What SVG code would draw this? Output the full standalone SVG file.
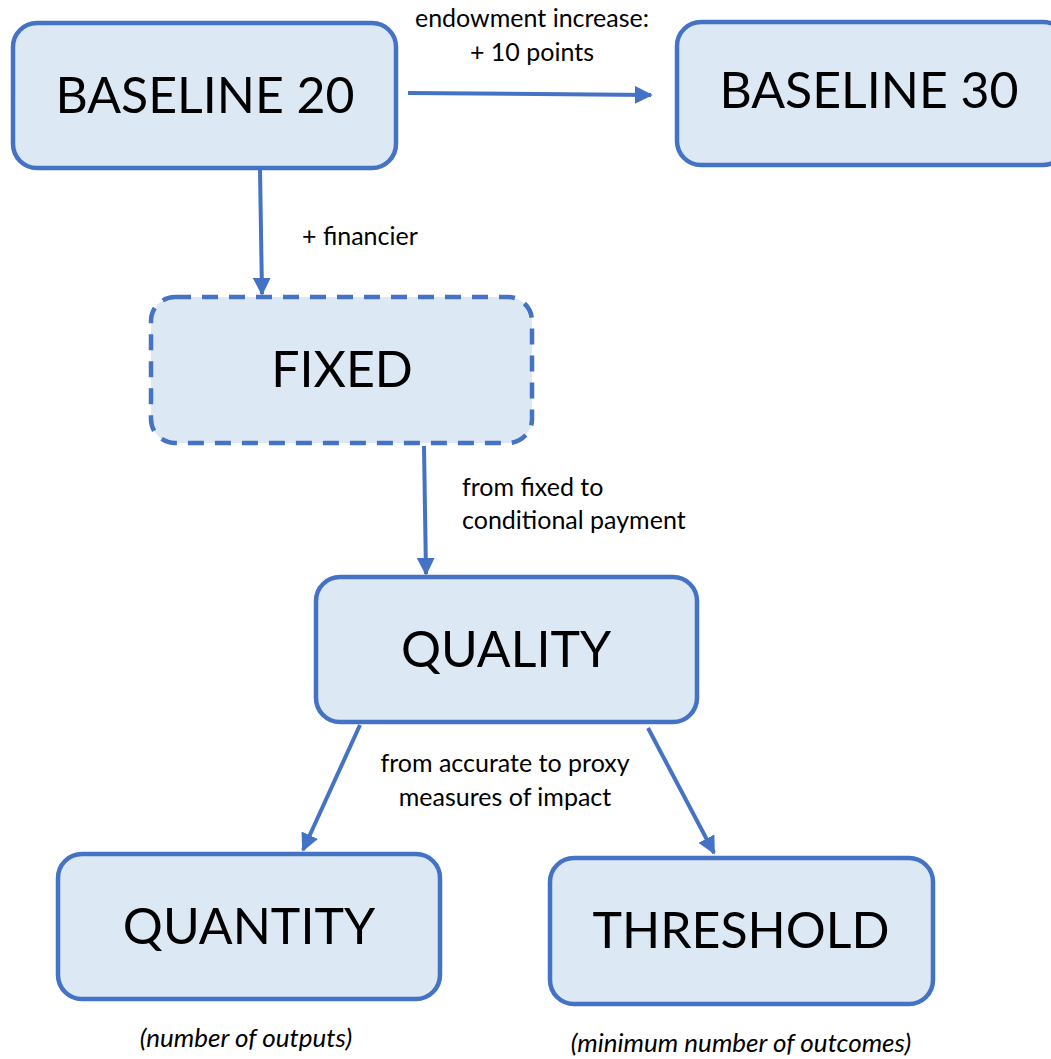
<svg xmlns="http://www.w3.org/2000/svg" width="1051" height="1059" viewBox="0 0 1051 1059">
<style>
.box{fill:#DDE8F5;stroke:#4472C4;stroke-width:4.5}
.dash{stroke-dasharray:16 11}
.big{font-family:Lato,"Liberation Sans",sans-serif;font-size:50px;fill:#000;text-anchor:middle}
.lbl{font-family:Lato,"Liberation Sans",sans-serif;font-size:25px;fill:#000}
.it{font-style:italic;text-anchor:middle;font-size:26px}
.con{stroke:#4472C4;stroke-width:4;fill:none;marker-end:url(#ah)}
</style>
<defs>
<marker id="ah" viewBox="0 0 10 10" refX="9" refY="5" markerWidth="4.5" markerHeight="4.5" orient="auto" markerUnits="strokeWidth">
<path d="M0,0 L10,5 L0,10 z" fill="#4472C4"/>
</marker>
</defs>
<rect width="1051" height="1059" fill="#fff"/>
<g id="connectors">
<path class="con" d="M408,93 L651,95"/>
<path class="con" d="M260,169 L262,294"/>
<path class="con" d="M424,446 L426,574"/>
<path class="con" d="M360,725 L303,850"/>
<path class="con" d="M648,728 L714,853"/>
</g>
<g id="labels">
<text class="lbl" x="532" y="27" text-anchor="middle">endowment increase:</text>
<text class="lbl" x="532" y="61" text-anchor="middle">+ 10 points</text>
<text class="lbl" x="302" y="245">+ financier</text>
<text class="lbl" x="462" y="496">from fixed to</text>
<text class="lbl" x="462" y="529">conditional payment</text>
<text class="lbl" x="505" y="772" text-anchor="middle">from accurate to proxy</text>
<text class="lbl" x="505" y="806" text-anchor="middle">measures of impact</text>
</g>
<g id="baseline20">
<rect class="box" x="13" y="23" width="383" height="145" rx="24"/>
<text class="big" x="205" y="113">BASELINE 20</text>
</g>
<g id="baseline30">
<rect class="box" x="677" y="22" width="390" height="143" rx="24"/>
<text class="big" x="869" y="108">BASELINE 30</text>
</g>
<g id="fixed">
<rect class="box dash" x="151" y="297" width="381" height="146" rx="24"/>
<text class="big" x="342" y="387">FIXED</text>
</g>
<g id="quality">
<rect class="box" x="316" y="577" width="381" height="145" rx="24"/>
<text class="big" x="506" y="667">QUALITY</text>
</g>
<g id="quantity">
<rect class="box" x="58" y="854" width="382" height="145" rx="24"/>
<text class="big" x="249" y="944">QUANTITY</text>
<text class="lbl it" x="246" y="1047">(number of outputs)</text>
</g>
<g id="threshold">
<rect class="box" x="550" y="858" width="383" height="146" rx="24"/>
<text class="big" x="741" y="948">THRESHOLD</text>
<text class="lbl it" x="741" y="1052">(minimum number of outcomes)</text>
</g>
</svg>
